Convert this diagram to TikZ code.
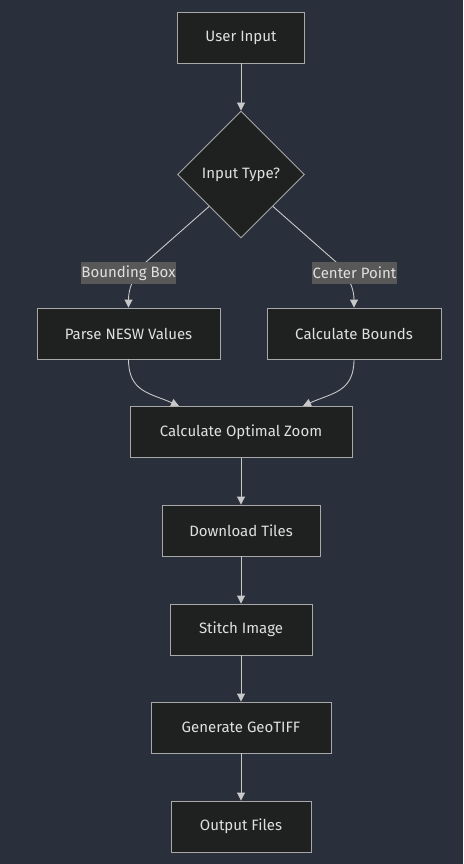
\documentclass[tikz,border=0pt]{standalone}
\usepackage{fontspec}
\setmainfont{Fira Sans}
\usetikzlibrary{shapes.geometric,arrows.meta}
\definecolor{bgc}{HTML}{2A2F3C}
\definecolor{boxfill}{HTML}{1F2020}
\definecolor{boxline}{HTML}{A8A8A8}
\definecolor{txt}{HTML}{E0E0E0}
\definecolor{edge}{HTML}{C8C8C8}
\definecolor{lblbg}{HTML}{585858}
\tikzset{
  box/.style={draw=boxline, fill=boxfill, line width=0.9pt, text=txt, font=\fontsize{15}{17}\selectfont, inner sep=0pt, minimum height=51pt},
  decision/.style={diamond, aspect=1, draw=boxline, fill=boxfill, line width=0.9pt, text=txt, font=\fontsize{15}{17}\selectfont, inner sep=0pt, minimum width=127pt, minimum height=127pt},
  lbl/.style={fill=lblbg, text=txt, font=\fontsize{15}{17}\selectfont, inner sep=0pt, minimum height=22pt},
  arr/.style={draw=edge, line width=0.9pt, -{Triangle[length=8pt,width=8pt]}},
}
\begin{document}
\begin{tikzpicture}[x=1pt,y=-1pt]
\fill[bgc] (0,0) rectangle (463,864);
\useasboundingbox (0,0) rectangle (463,864);
\node[box, minimum width=127pt] (ui) at (241,37.5) {User Input};
\node[decision] (d) at (241,174.5) {Input Type?};
\node[box, minimum width=183pt] (p) at (128.5,333.5) {Parse NESW Values};
\node[box, minimum width=174pt] (cb) at (354,333.5) {Calculate Bounds};
\node[box, minimum width=222pt] (z) at (241,432) {Calculate Optimal Zoom};
\node[box, minimum width=158pt] (dl) at (241,530.5) {Download Tiles};
\node[box, minimum width=142pt] (s) at (241,629.5) {Stitch Image};
\node[box, minimum width=180pt] (g) at (241,727.5) {Generate GeoTIFF};
\node[box, minimum width=140pt] (o) at (241,826.5) {Output Files};
\coordinate (zl) at (179,406);
\coordinate (zr) at (303,406);
\draw[arr] (ui) -- (d);
\draw[arr] (d.south west) -- (146,262) .. controls (132,277) and (128.5,290) .. (p.north);
\draw[arr] (d.south east) -- (336,262) .. controls (350,277) and (354,290) .. (cb.north);
\node[lbl, minimum width=91pt] (lb) at (128.5,273) {Bounding Box};
\node[lbl, minimum width=85pt] (lc) at (354.5,273) {Center Point};
\draw[arr] (p.south) .. controls (128.5,392) and (150,393) .. (zl);
\draw[arr] (cb.south) .. controls (354,392) and (332,393) .. (zr);
\draw[arr] (z) -- (dl);
\draw[arr] (dl) -- (s);
\draw[arr] (s) -- (g);
\draw[arr] (g) -- (o);
\end{tikzpicture}
\end{document}
